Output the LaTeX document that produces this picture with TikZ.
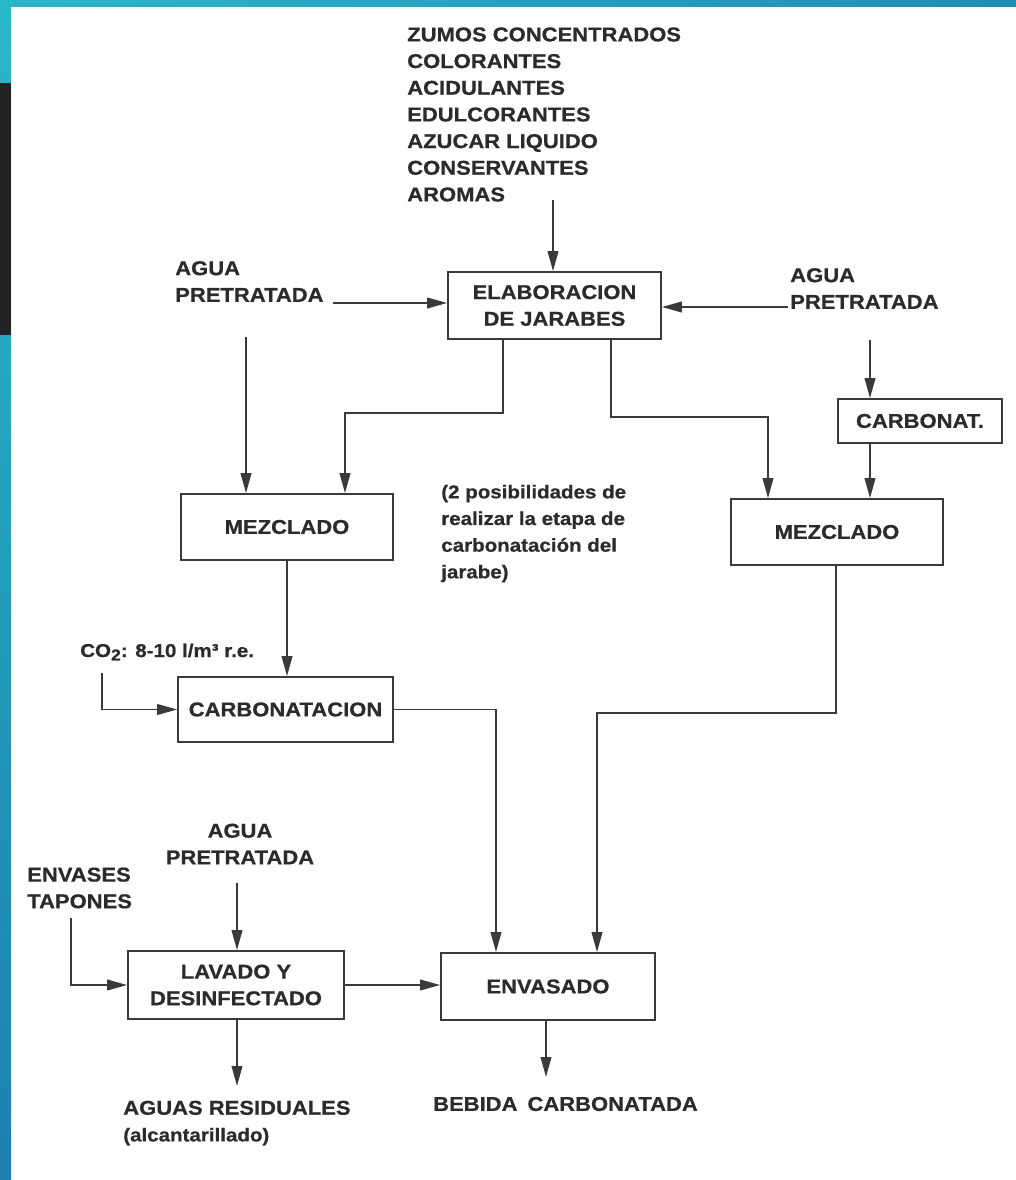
\documentclass[tikz,border=0pt]{standalone}
\usepackage{fontspec}
\newfontfamily\lbf{Liberation Sans}[FakeStretch=1.1, BoldFeatures={FakeBold=0.6}]
\usetikzlibrary{arrows.meta}
\definecolor{tealA}{HTML}{2AB7C9}
\definecolor{blueB}{HTML}{1E80AF}
\definecolor{blueC}{HTML}{1F8DB6}
\definecolor{darkblk}{HTML}{232323}
\definecolor{inkc}{HTML}{2B2B2B}
\definecolor{linec}{HTML}{3A3A3A}
\newcommand\bigtxt{\lbf\bfseries\fontsize{15pt}{20pt}\selectfont}
\newcommand\smalltxt{\lbf\bfseries\fontsize{14pt}{20pt}\selectfont}
\tikzset{
  lbl/.style={font=\bigtxt, text=inkc, inner sep=0pt},
  stepbox/.style={draw=linec, line width=1.3pt, fill=white, font=\bigtxt, text=inkc,
     align=center, inner sep=0pt},
  arr/.style={draw=linec, line width=1.3pt, -{Triangle[length=15pt,width=8pt]}},
  ln/.style={draw=linec, line width=1.3pt}
}
\begin{document}
\begin{tikzpicture}[x=0.75pt,y=-0.75pt]
\useasboundingbox (0,0) rectangle (1016,1180);
% background
\fill[white] (0,0) rectangle (1016,1180);
\shade[top color=tealA, bottom color=blueB] (0,0) rectangle (11,1180);
\shade[left color=tealA, right color=blueC] (0,0) rectangle (1016,7);
\fill[darkblk] (0,83) rectangle (11,335);

% boxes
\node[stepbox, minimum width=213*0.75pt, minimum height=67*0.75pt] (elab) at (554.5,305.5) {ELABORACION\\DE JARABES};
\node[stepbox, minimum width=212*0.75pt, minimum height=66*0.75pt] (mezA) at (287,527) {MEZCLADO};
\node[stepbox, minimum width=215*0.75pt, minimum height=65*0.75pt] (carbA) at (285.5,709.5) {CARBONATACION};
\node[stepbox, minimum width=164*0.75pt, minimum height=44*0.75pt] (carbB) at (920,421) {CARBONAT.};
\node[stepbox, minimum width=212*0.75pt, minimum height=66*0.75pt] (mezB) at (837,532) {MEZCLADO};
\node[stepbox, minimum width=216*0.75pt, minimum height=68*0.75pt] (lav) at (236,985) {LAVADO Y\\DESINFECTADO};
\node[stepbox, minimum width=214*0.75pt, minimum height=67*0.75pt] (env) at (548,986.5) {ENVASADO};

% labels
\node[lbl, anchor=west, align=left] (list) at (407,114.5) {ZUMOS CONCENTRADOS\\COLORANTES\\ACIDULANTES\\EDULCORANTES\\AZUCAR LIQUIDO\\CONSERVANTES\\AROMAS};
\node[lbl, anchor=west, align=left] (aguaL) at (175,281.5) {AGUA\\PRETRATADA};
\node[lbl, anchor=west, align=left] (aguaR) at (790,288.5) {AGUA\\PRETRATADA};
\node[lbl, font=\smalltxt, anchor=west, align=left] (note) at (441,533.5) {(2 posibilidades de\\realizar la etapa de\\carbonatación del\\jarabe)};
\node[lbl, font=\smalltxt, anchor=west] (co2) at (80,652) {CO\raisebox{-0.35ex}{\fontsize{12pt}{12pt}\selectfont 2}: 8-10 l/m³ r.e.};
\node[lbl, align=center] (aguaB) at (240,844) {AGUA\\PRETRATADA};
\node[lbl, anchor=west, align=left] (envases) at (27,888) {ENVASES\\TAPONES};
\node[lbl, anchor=west, align=left] (resid) at (123,1123) {AGUAS RESIDUALES\\{\smalltxt(alcantarillado)}};
\node[lbl] (bebida) at (565.5,1104) {BEBIDA\enspace CARBONATADA};

% free ends
\coordinate (lsrc) at (553,200);
\coordinate (a1) at (333,303);
\coordinate (a2) at (788,307);
\coordinate (a3) at (246,337);
\coordinate (a4) at (870,340);
\coordinate (c1) at (102,673);
\coordinate (a5) at (237,883);
\coordinate (e1) at (71,918);
\coordinate (w1) at (237,1086);
\coordinate (b1) at (546,1077);

% connectors
\draw[arr] (lsrc) -- (lsrc |- elab.north);
\draw[arr] (a1) -- (a1 -| elab.west);
\draw[arr] (a2) -- (a2 -| elab.east);
\draw[arr] (a3) -- (a3 |- mezA.north);
\draw[arr] (503,0 |- elab.south) -- (503,413) -- (345,413) -- (345,0 |- mezA.north);
\draw[arr] (611,0 |- elab.south) -- (611,417) -- (768,417) -- (768,0 |- mezB.north);
\draw[arr] (a4) -- (a4 |- carbB.north);
\draw[arr] (870,0 |- carbB.south) -- (870,0 |- mezB.north);
\draw[arr] (287,0 |- mezA.south) -- (287,0 |- carbA.north);
\draw[arr] (c1) |- (carbA.west);
\draw[arr] (carbA.east) -| (496,0 |- env.north);
\draw[arr] (836,0 |- mezB.south) |- (597,713) -- (597,0 |- env.north);
\draw[arr] (a5) -- (a5 |- lav.north);
\draw[arr] (e1) |- (lav.west);
\draw[arr] (lav.east) -- (lav.east -| env.west);
\draw[arr] (w1 |- lav.south) -- (w1);
\draw[arr] (b1 |- env.south) -- (b1);
\end{tikzpicture}
\end{document}
